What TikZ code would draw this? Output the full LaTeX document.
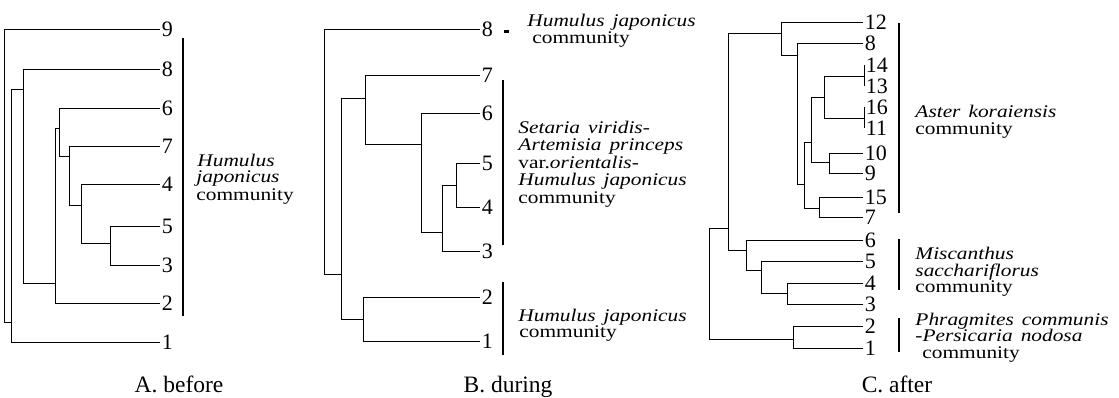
\documentclass[tikz,border=0pt]{standalone}
\usepackage{fontspec}
\setmainfont{Liberation Serif}
\newfontfamily\lblfont[FakeStretch=1.2,WordSpace=1.5]{Liberation Serif}
\begin{document}
\begin{tikzpicture}[x=1pt,y=-1pt,line width=0.9pt,
  num/.style={anchor=west,inner sep=1.5pt,font=\fontsize{22}{22}\selectfont},
  lbl/.style={anchor=base west,inner sep=0pt,font=\lblfont\fontsize{17.8}{17.8}\selectfont},
  captext/.style={anchor=base,inner sep=0pt,font=\fontsize{23.5}{24}\selectfont},
  grpbar/.style={line width=1.6pt}]
\useasboundingbox[fill=white] (0,0) rectangle (1119,397);

% ---------------- Panel A ----------------
\foreach \n/\y in {9/29,8/69,6/108,7/146,4/184,5/226,3/265,2/303,1/342}
  \node[num] (nA\n) at (160,\y) {\n};
\coordinate (ar) at (4,200);
\coordinate (ax11) at (11,322);
\coordinate (ax23) at (23,89);
\coordinate (ax55) at (55,283);
\coordinate (ax59) at (59,128);
\coordinate (ax69) at (69,156);
\coordinate (ax81) at (81,205);
\coordinate (ax110) at (110,243);
\draw (ar) |- (nA9.west) (ar) |- (ax11)
      (ax11) |- (ax23) (ax11) |- (nA1.west)
      (ax23) |- (nA8.west) (ax23) |- (ax55)
      (ax55) |- (ax59) (ax55) |- (nA2.west)
      (ax59) |- (nA6.west) (ax59) |- (ax69)
      (ax69) |- (nA7.west) (ax69) |- (ax81)
      (ax81) |- (nA4.west) (ax81) |- (ax110)
      (ax110) |- (nA5.west) (ax110) |- (nA3.west);
\draw[grpbar] (183,38) -- (183,316);
\node[lbl] (la1) at (197,166) {\itshape Humulus};
\node[lbl] (la2) at (196,182) {\itshape japonicus};
\node[lbl] (la3) at (196,200) {community};
\node[captext] (capA) at (179,392) {A. before};

% ---------------- Panel B ----------------
\foreach \n/\y in {8/29,7/75,6/113,5/163,4/207,3/251,2/297,1/341}
  \node[num] (nB\n) at (480,\y) {\n};
\coordinate (br) at (324,150);
\coordinate (bx341) at (341,274);
\coordinate (bx365) at (365,98);
\coordinate (bx421) at (421,144);
\coordinate (bx442) at (442,232);
\coordinate (bx456) at (456,185);
\coordinate (bx363) at (363,319);
\draw (br) |- (nB8.west) (br) |- (bx341)
      (bx341) |- (bx365) (bx341) |- (bx363)
      (bx365) |- (nB7.west) (bx365) |- (bx421)
      (bx421) |- (nB6.west) (bx421) |- (bx442)
      (bx442) |- (bx456) (bx442) |- (nB3.west)
      (bx456) |- (nB5.west) (bx456) |- (nB4.west)
      (bx363) |- (nB2.west) (bx363) |- (nB1.west);
\fill (504,29.5) rectangle (509,33);
\draw[grpbar] (503,80) -- (503,245);
\draw[grpbar] (503,282) -- (503,355);
\node[lbl] (lb1) at (527,26) {\itshape Humulus japonicus};
\node[lbl] (lb2) at (532,43) {community};
\node[lbl] (lb3) at (518,133) {\itshape Setaria viridis-};
\node[lbl] (lb4) at (518,150.5) {\itshape Artemisia princeps};
\node[lbl] (lb5) at (518,168) {var.\itshape orientalis-};
\node[lbl] (lb6) at (518,185.5) {\itshape Humulus japonicus};
\node[lbl] (lb7) at (518,203) {community};
\node[lbl] (lb8) at (518,321) {\itshape Humulus japonicus};
\node[lbl] (lb9) at (519,337) {community};
\node[captext] (capB) at (508,392) {B. during};

% ---------------- Panel C ----------------
\foreach \n/\y in {12/22,8/43,10/153,9/173,15/197,7/217,6/240,5/261,4/283,3/304,2/326,1/348}
  \node[num] (nC\n) at (863,\y) {\n};
\foreach \n/\y in {14/65,13/86,16/107,11/128}
  \node[num] (nC\n) at (864,\y) {\n};
\coordinate (cr) at (709,280);
\coordinate (cF) at (728,228);
\coordinate (cE) at (781,33);
\coordinate (cD) at (797,55);
\coordinate (cC) at (804,184);
\coordinate (cB) at (811,142);
\coordinate (cA) at (824,97);
\coordinate (c1413) at (864,76);
\coordinate (c1611) at (864,118);
\coordinate (c109) at (829,162);
\coordinate (c157) at (819,208);
\coordinate (c6x) at (746,250);
\coordinate (c5x) at (761,270);
\coordinate (c43) at (787,293);
\coordinate (c21) at (793,339);
\draw (cr) |- (cF) (cr) |- (c21)
      (cF) |- (cE) (cF) |- (c6x)
      (cE) |- (nC12.west) (cE) |- (cD)
      (cD) |- (nC8.west) (cD) |- (cC)
      (cC) |- (cB) (cC) |- (c157)
      (cB) |- (cA) (cB) |- (c109)
      (cA) |- (c1413) (cA) |- (c1611)
      (c1413) |- (nC14.west) (c1413) |- (nC13.west)
      (c1611) |- (nC16.west) (c1611) |- (nC11.west)
      (c109) |- (nC10.west) (c109) |- (nC9.west)
      (c157) |- (nC15.west) (c157) |- (nC7.west)
      (c6x) |- (nC6.west) (c6x) |- (c5x)
      (c5x) |- (nC5.west) (c5x) |- (c43)
      (c43) |- (nC4.west) (c43) |- (nC3.west)
      (c21) |- (nC2.west) (c21) |- (nC1.west);
\draw[grpbar] (899,23) -- (899,213);
\draw[grpbar] (899,239) -- (899,290);
\draw[grpbar] (899,318) -- (899,352);
\node[lbl] (lc1) at (915,117.5) {\itshape Aster koraiensis};
\node[lbl] (lc2) at (915,134) {community};
\node[lbl] (lc3) at (915,259.5) {\itshape Miscanthus};
\node[lbl] (lc4) at (915,276) {\itshape sacchariflorus};
\node[lbl] (lc5) at (915,292.5) {community};
\node[lbl] (lc6) at (915,325.5) {\itshape Phragmites communis};
\node[lbl] (lc7) at (915,341.5) {\itshape -Persicaria nodosa};
\node[lbl] (lc8) at (922,358.5) {community};
\node[captext] (capC) at (897,392) {C. after};
\end{tikzpicture}
\end{document}
